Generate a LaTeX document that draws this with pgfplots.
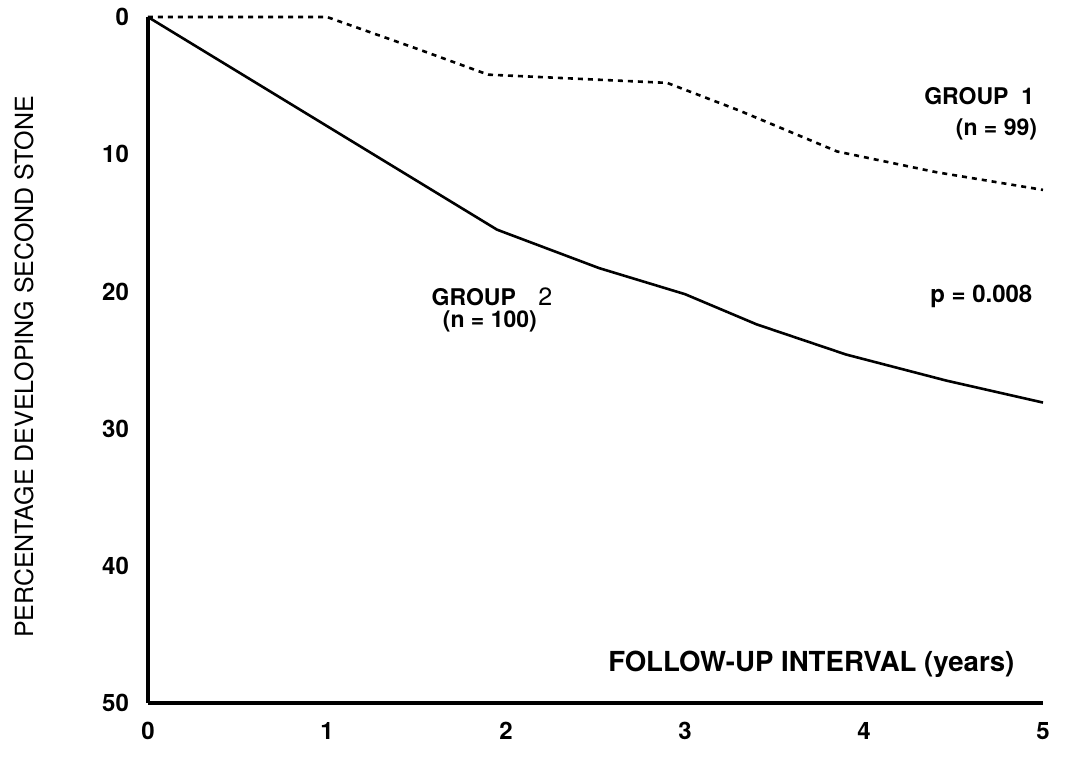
\documentclass[border=0pt]{standalone}
\usepackage{pgfplots}
\pgfplotsset{compat=1.18}
\usepackage{fontspec}
\setmainfont{TeX Gyre Heros}
\begin{document}
\begin{tikzpicture}
\useasboundingbox (-74pt,-32.5pt) rectangle (466.5pt,351.5pt);
\begin{axis}[
  at={(0,0)}, anchor=south west,
  scale only axis, width=447.5pt, height=343pt,
  xmin=0, xmax=5, ymin=0, ymax=50, y dir=reverse,
  axis x line=bottom, axis y line=left,
  axis line style={line width=1.6pt, -},
  xtick={0,1,2,3,4,5}, ytick={0,10,20,30,40,50},
  major tick length=0pt,
  /pgf/number format/assume math mode=true,
  ticklabel style={font=\fontsize{12}{14}\selectfont\bfseries},
  xticklabel style={yshift=-6pt},
  yticklabel style={xshift=-6pt},
  ylabel={PERCENTAGE DEVELOPING SECOND STONE},
  ylabel style={font=\fontsize{12.5}{14}\selectfont, at={(rel axis cs:0,0.49)}, anchor=center, yshift=62pt},
  clip=false,
]
\addplot[line width=1.3pt, black] coordinates {
 (0,0) (1.95,15.5) (2.52,18.3) (3.0,20.2) (3.40,22.4) (3.90,24.6) (4.46,26.5) (5,28.1)
};
\addplot[line width=1.3pt, black, dash pattern=on 2.5pt off 2.5pt] coordinates {
 (0,0) (1.0,0) (1.5,2.3) (1.9,4.2) (2.9,4.8) (3.3,6.8) (3.85,9.8) (4.4,11.3) (5,12.6)
};
\node[anchor=east, font=\fontsize{11.5}{13}\selectfont\bfseries] at (axis cs:4.99,5.8) {GROUP\ \ 1};
\node[font=\fontsize{11.5}{13}\selectfont\bfseries] at (axis cs:4.74,8.2) {(n = 99)};
\node[anchor=east, font=\fontsize{12}{14}\selectfont\bfseries] at (axis cs:4.98,20.4) {p = 0.008};
\node[font=\fontsize{11.5}{13}\selectfont\bfseries] at (axis cs:1.82,20.4) {GROUP};
\node[font=\fontsize{12.5}{14}\selectfont] at (axis cs:2.22,20.4) {2};
\node[font=\fontsize{11.5}{13}\selectfont\bfseries] at (axis cs:1.91,22.2) {(n = 100)};
\node[anchor=east, font=\fontsize{13.8}{16}\selectfont\bfseries] at (axis cs:4.88,47.2) {FOLLOW-UP INTERVAL (years)};
\end{axis}
\end{tikzpicture}
\end{document}
